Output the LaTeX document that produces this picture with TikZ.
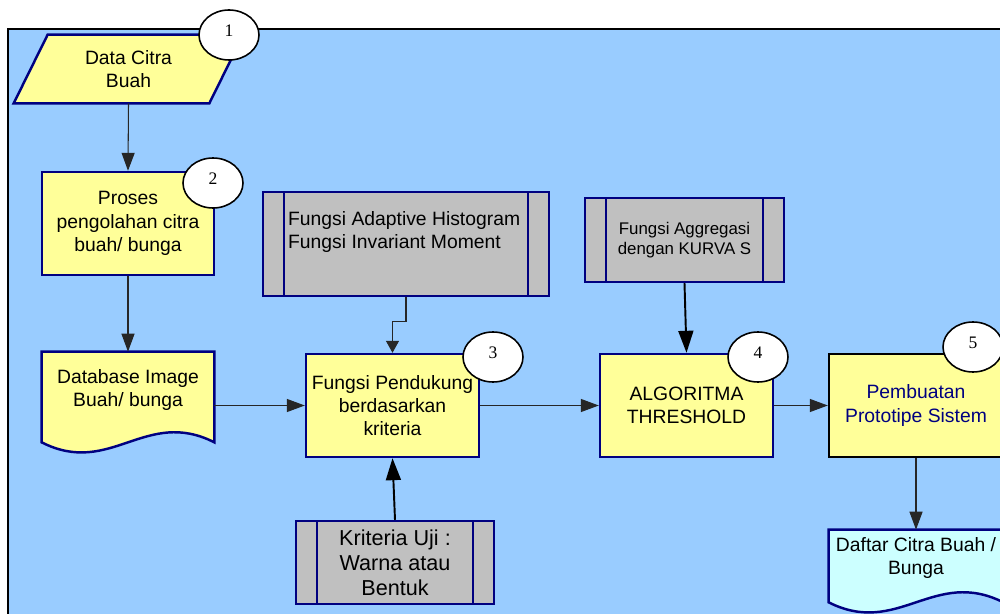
\documentclass[tikz,border=0pt]{standalone}
\usepackage{fontspec}
\setmainfont{Liberation Sans}
\newfontfamily\numfont{Liberation Serif}
\usetikzlibrary{arrows.meta,positioning,shapes.geometric,backgrounds}
\definecolor{sky}{HTML}{99CCFF}
\definecolor{pale}{HTML}{FFFF99}
\definecolor{navyline}{HTML}{000080}
\definecolor{boxgray}{HTML}{C0C0C0}
\definecolor{palecyan}{HTML}{CCFFFF}
\definecolor{wire}{HTML}{262626}
\tikzset{>={Triangle[length=10.2pt,width=7.4pt]},
  every node/.style={font=\fontsize{11}{13.3}\selectfont,align=center},
  frame/.style={draw=black,fill=sky,line width=1.1pt},
  procbox/.style={draw=navyline,fill=pale,line width=1.4pt,minimum width=3.46cm,minimum height=2.06cm},
  docnode/.style={inner sep=0pt},
  docshape/.style={draw=navyline,fill=pale,line width=1.4pt},
  predef/.style={draw=navyline,fill=boxgray,line width=1.4pt,
    path picture={\draw[navyline,line width=1.4pt]
      ([xshift=.42cm]path picture bounding box.north west)--([xshift=.42cm]path picture bounding box.south west)
      ([xshift=-.42cm]path picture bounding box.north east)--([xshift=-.42cm]path picture bounding box.south east);}},
  badge/.style={ellipse,draw=black,fill=white,line width=.9pt,minimum width=1.2cm,minimum height=1cm,
    inner sep=0pt,text depth=4.5pt,font=\numfont\fontsize{10}{12}\selectfont},
  flow/.style={->,draw=wire,line width=.6pt},
  shortflow/.style={flow,-{Triangle[length=6.8pt,width=7.4pt]}},
  heavyflow/.style={-{Triangle[length=12.5pt,width=8.5pt]},draw=black,line width=1.1pt}}

\begin{document}
\begin{tikzpicture}[x=.02cm,y=-.02cm]
\path[use as bounding box] (0,0) rectangle (1000,614);
% main flow
\node[minimum width=3.9cm,minimum height=1.36cm] (data) at (128.5,69) {Data Citra\\Buah};
\node[procbox,minimum width=3.44cm] (olah) at (128,223.5) {Proses\\pengolahan citra\\buah/ bunga};
\node[docnode,minimum width=3.44cm,minimum height=1.52cm] (db) at (128,390) {Database Image\\Buah/ bunga};
\node[procbox] (dukung) at (392.5,405.5) {Fungsi Pendukung\\berdasarkan\\kriteria};
\node[procbox] (thres) at (686.5,405.5) {ALGORITMA\\THRESHOLD};
\node[procbox,draw=black,text=navyline,minimum width=3.48cm] (proto) at (916,405.5) {Pembuatan\\Prototipe Sistem};
\node[docnode,minimum width=3.48cm,minimum height=1.12cm] (daftar) at (916,558) {Daftar Citra Buah /\\Bunga};
% supporting functions
\node[predef,minimum width=5.72cm,minimum height=2.08cm] (hist) at (406,244) {};
\node[anchor=north west,inner sep=0pt,align=left] (histtxt) at ([shift={(.52cm,-.4cm)}]hist.north west) {Fungsi Adaptive Histogram\\Fungsi Invariant Moment};
\node[predef,minimum width=3.98cm,minimum height=1.68cm,font=\fontsize{9.6}{11.3}\selectfont] (aggr) at (684.5,240) {Fungsi Aggregasi\\dengan KURVA S};
\node[predef,minimum width=3.96cm,minimum height=1.66cm,font=\fontsize{12.3}{14.2}\selectfont] (krit) at (395,562.5) {Kriteria Uji :\\Warna atau\\Bentuk};
\begin{scope}[on background layer]
\draw[frame] (8,29) rectangle (1010,624);
\draw[docshape] ([xshift=.34cm]data.north west)--([xshift=.34cm]data.north east)
  --([xshift=-.34cm]data.south east)--([xshift=-.34cm]data.south west)--cycle;
\draw[docshape] (db.north west)--(db.north east)--([yshift=-.28cm]db.south east)
  .. controls +(-1.38cm,.7cm) and +(1.38cm,-.7cm) .. ([yshift=-.28cm]db.south west)--cycle;
\draw[docshape,fill=palecyan] (daftar.north west)--(daftar.north east)--([yshift=-.32cm]daftar.south east)
  .. controls +(-1.39cm,.7cm) and +(1.39cm,-.7cm) .. ([yshift=-.32cm]daftar.south west)--cycle;
\end{scope}
% connectors
\draw[flow] (data.south)--(olah.north);
\draw[flow] (olah.south)--(db.north);
\draw[flow] (db.east |- dukung)--(dukung.west);
\draw[shortflow] (hist.south)--++(0,24)-|(dukung.north);
\draw[flow] (dukung.east)--(thres.west);
\draw[heavyflow] (aggr.south)--(thres.north);
\draw[flow] (thres.east)--(proto.west);
\draw[flow] (proto.south)--(daftar.north);
\draw[heavyflow] (krit.north)--(dukung.south);
\foreach \n/\x/\y in {1/229/35,2/213/183,3/493/357,4/758/357,5/973/347}
  \node[badge] (num\n) at (\x,\y) {\n};
\end{tikzpicture}
\end{document}
